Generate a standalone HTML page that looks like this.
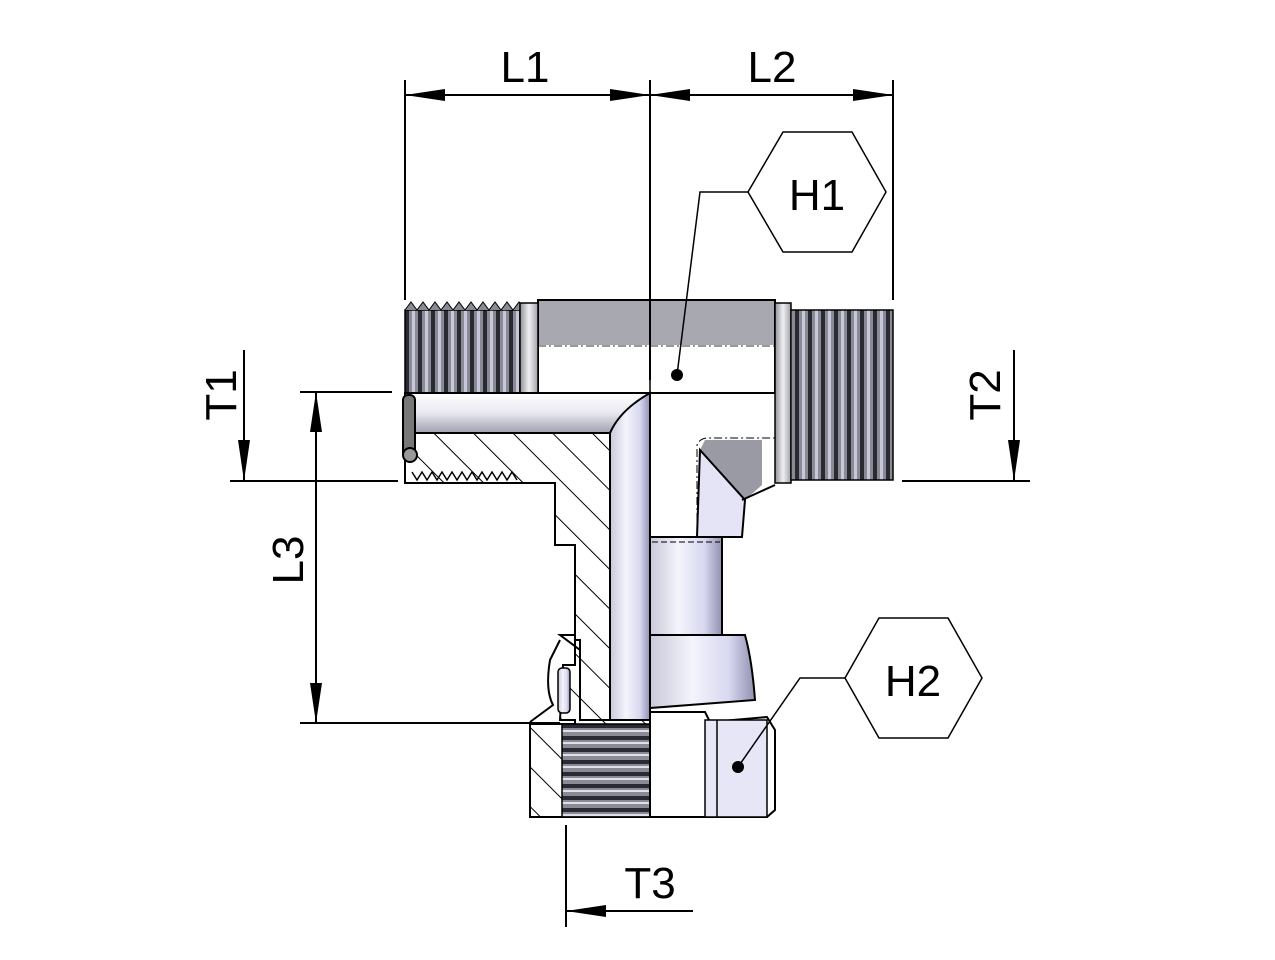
<!DOCTYPE html>
<html><head><meta charset="utf-8"><style>html,body{margin:0;padding:0;background:#fff}svg{display:block}</style></head>
<body>
<svg width="1275" height="960" viewBox="0 0 1275 960" xmlns="http://www.w3.org/2000/svg" font-family="Liberation Sans, sans-serif">
<defs>
<linearGradient id="vcyl" x1="0" y1="0" x2="1" y2="0">
<stop offset="0" stop-color="#c8c8d8"/><stop offset="0.4" stop-color="#f4f4fc"/><stop offset="0.75" stop-color="#d8d8f0"/><stop offset="1" stop-color="#9090b0"/></linearGradient>
<linearGradient id="hcyl" x1="0" y1="0" x2="0" y2="1">
<stop offset="0" stop-color="#ffffff"/><stop offset="0.5" stop-color="#e8e8f0"/><stop offset="1" stop-color="#a0a0b0"/></linearGradient>
<linearGradient id="collar" x1="0" y1="0" x2="1" y2="0">
<stop offset="0" stop-color="#909098"/><stop offset="0.5" stop-color="#f0f0f4"/><stop offset="1" stop-color="#a0a0a8"/></linearGradient>
<pattern id="thrV" width="13" height="10" patternUnits="userSpaceOnUse" x="405">
<rect width="13" height="10" fill="#8a8a94"/><rect x="0" width="4" height="10" fill="#2a2a32"/><rect x="7" width="3" height="10" fill="#c8c8dc"/></pattern>
<pattern id="thrH" width="10" height="12" patternUnits="userSpaceOnUse" y="724">
<rect width="10" height="12" fill="#8a8a94"/><rect y="0" width="10" height="4" fill="#2a2a32"/><rect y="6" width="10" height="2" fill="#e0e0ec"/></pattern>
<pattern id="hatch" width="28" height="28" patternUnits="userSpaceOnUse" patternTransform="rotate(-45)">
<rect width="28" height="28" fill="#fff"/><line x1="0" y1="0" x2="0" y2="28" stroke="#000" stroke-width="2"/></pattern>
</defs>

<rect x="538" y="300" width="237" height="45" fill="#a8a8b0"/>
<rect x="538" y="345" width="237" height="48" fill="#fff"/>
<line x1="538" y1="346" x2="775" y2="346" stroke="#333" stroke-dasharray="8,3,2,3"/>
<rect x="538" y="300" width="237" height="93" fill="none" stroke="#000" stroke-width="2"/>
<rect x="405" y="310" width="115" height="83" fill="url(#thrV)" stroke="#000" stroke-width="1.5"/>
<path d="M405 310 l6-8 6 8 6-8 6 8 6-8 6 8 6-8 6 8 6-8 6 8 6-8 6 8 6-8 6 8 6-8 6 8 6-8 6 8 6-8 6 8" fill="#8a8a94" stroke="#000"/>
<rect x="520" y="303" width="18" height="90" fill="url(#collar)" stroke="#000" stroke-width="1.5"/>
<rect x="775" y="303" width="16" height="180" fill="url(#collar)" stroke="#000" stroke-width="1.5"/>
<rect x="791" y="310" width="102" height="170" fill="url(#thrV)" stroke="#000" stroke-width="1.5"/>
<path d="M762 440 L705 440 L700 450 L745 500 L762 485 Z" fill="#9a9aa4"/>
<path d="M700 450 L745 500 L742 537 L697 537 Z" fill="#e4e4f6" stroke="#000" stroke-width="2"/>
<path d="M697 537 L697 445 Q700 438 708 438 L775 438" fill="none" stroke="#000" stroke-width="1" stroke-dasharray="8,3,2,3"/>
<line x1="742" y1="500" x2="775" y2="485" stroke="#000" stroke-width="2"/>
<line x1="650" y1="380" x2="650" y2="437" stroke="#000" stroke-width="1.5"/>
<path d="M405 433 L610 433 L610 720 L580 720 L580 640 L575 640 L575 545 L555 545 L555 483 L405 483 Z" fill="url(#hatch)" stroke="#000" stroke-width="2"/>
<path d="M412 472 l5 8 5-8 5 8 5-8 5 8 5-8 5 8 5-8 5 8 5-8 5 8 5-8 5 8 5-8 5 8 5-8 5 8 5-8 5 8 5-8 5 8" fill="none" stroke="#000" stroke-width="1.5"/>
<rect x="405" y="393" width="245" height="40" fill="url(#hcyl)" stroke="#000" stroke-width="2"/>
<path d="M610 433 Q620 410 650 393 L650 720 L610 720 Z" fill="url(#vcyl)" stroke="#000" stroke-width="2"/>
<rect x="403" y="395" width="12" height="62" rx="5" fill="#777" stroke="#000" stroke-width="2"/>
<circle cx="410" cy="455" r="7" fill="#999" stroke="#000" stroke-width="2"/>
<rect x="650" y="537" width="72" height="98" fill="url(#vcyl)" stroke="#000" stroke-width="2"/>
<line x1="652" y1="542" x2="720" y2="542" stroke="#000" stroke-dasharray="6,3"/>
<path d="M650 635 L745 635 Q752 660 755 700 L650 708 Z" fill="url(#vcyl)" stroke="#000" stroke-width="2"/>
<path d="M560 635 L575 635 L575 665 L563 665 L560 720 L575 720 L575 724 L530 724 L530 817 L650 817 L650 720 L610 720 L580 720 L580 650 Z" fill="url(#hatch)" stroke="#000" stroke-width="2"/>
<path d="M560 640 L550 660 Q545 690 553 705 L530 722" fill="none" stroke="#000" stroke-width="2"/>
<rect x="558" y="668" width="12" height="45" rx="4" fill="url(#vcyl)" stroke="#000" stroke-width="1.5"/>
<rect x="562" y="724" width="88" height="93" fill="url(#thrH)" stroke="#000" stroke-width="1.5"/>
<path d="M650 712 L705 712 L710 722 L767 717 L775 730 L775 810 L767 817 L650 817 Z" fill="#fff" stroke="#000" stroke-width="2"/>
<rect x="705" y="720" width="62" height="97" fill="#e6e6f6" stroke="#000" stroke-width="1.5"/>
<line x1="717" y1="720" x2="717" y2="817" stroke="#000" stroke-width="1.5"/>

<g stroke="#000" stroke-width="2" fill="none">
<line x1="405" y1="80" x2="405" y2="300"/>
<line x1="650" y1="80" x2="650" y2="380"/>
<line x1="893" y1="80" x2="893" y2="300"/>
<line x1="405" y1="95" x2="893" y2="95"/>
<line x1="244" y1="350" x2="244" y2="480"/>
<line x1="230" y1="481" x2="398" y2="481"/>
<line x1="300" y1="392" x2="392" y2="392"/>
<line x1="316" y1="392" x2="316" y2="723"/>
<line x1="300" y1="723" x2="560" y2="723"/>
<line x1="1014" y1="350" x2="1014" y2="480"/>
<line x1="902" y1="481" x2="1030" y2="481"/>
<line x1="566" y1="825" x2="566" y2="927"/>
<line x1="566" y1="911" x2="693" y2="911"/>
<polygon points="748,192 783,132 852,132 886,192 852,252 783,252" stroke-width="1.5"/>
<polyline points="748,192 700,192 677,375" stroke-width="1.5"/>
<polygon points="845,678 879,618 948,618 982,678 948,738 879,738" stroke-width="1.5"/>
<polyline points="845,678 800,678 738,767" stroke-width="1.5"/>
</g>
<g fill="#000">
<polygon points="405,95 445,89 445,101"/>
<polygon points="650,95 610,89 610,101"/>
<polygon points="650,95 690,89 690,101"/>
<polygon points="893,95 853,89 853,101"/>
<polygon points="244,481 238,440 250,440"/>
<polygon points="316,392 310,432 322,432"/>
<polygon points="316,723 310,683 322,683"/>
<polygon points="1014,481 1008,440 1020,440"/>
<polygon points="566,911 606,905 606,917"/>
<circle cx="677" cy="375" r="6"/>
<circle cx="738" cy="767" r="6"/>
</g>
<g font-size="44" fill="#000">
<text x="525" y="82" text-anchor="middle">L1</text>
<text x="772" y="82" text-anchor="middle">L2</text>
<text x="817" y="210" text-anchor="middle">H1</text>
<text x="913" y="696" text-anchor="middle">H2</text>
<text x="650" y="898" text-anchor="middle">T3</text>
<text transform="translate(236,395) rotate(-90)" text-anchor="middle">T1</text>
<text transform="translate(1000,395) rotate(-90)" text-anchor="middle">T2</text>
<text transform="translate(303,560) rotate(-90)" text-anchor="middle">L3</text>
</g>
</svg>
</body></html>
